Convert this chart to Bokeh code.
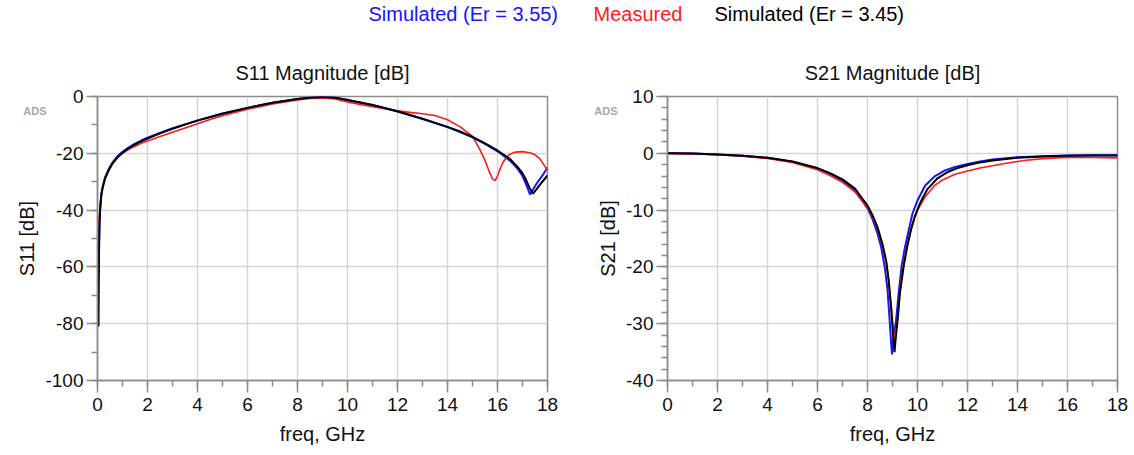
from bokeh.plotting import figure
from bokeh.layouts import column, row
from bokeh.models import (Range1d, SingleIntervalTicker, FixedTicker, LinearAxis,
                          PrintfTickFormatter, CustomJSTickFormatter)
from bokeh.core.properties import value
from bokeh.embed import file_html
from bokeh.resources import INLINE

# ---------------- data ----------------
series_names = ["Simulated (Er = 3.55)", "Measured", "Simulated (Er = 3.45)"]
series_colors = ["#1414ff", "#ff1a1a", "#000000"]

# S11 magnitude [dB]
s11_sim355_f = [0.04, 0.06, 0.08, 0.1, 0.15, 0.2, 0.3, 0.45, 0.6, 0.8, 1.0, 1.25, 1.5, 1.75, 2.0, 2.5,
                3.0, 3.5, 4.0, 5.0, 6.0, 7.0, 8.0, 8.5, 9.0, 9.5, 10.0, 11.0, 12.0, 13.0, 14.0, 14.5,
                15.0, 15.5, 16.0, 16.5, 16.8, 17.0, 17.15, 17.3, 17.45, 17.6, 17.8, 18.0]
s11_sim355_v = [-63, -52, -44, -40, -34.5, -32, -28.5, -25.5, -23.2, -21, -19.5, -17.9, -16.6, -15.5, -14.5, -12.8,
                -11.2, -9.8, -8.4, -6.0, -4.0, -2.2, -0.9, -0.4, -0.15, -0.4, -1.2, -3.0, -5.3, -7.9, -10.8, -12.5,
                -14.4, -16.7, -19.3, -22.6, -25.4, -28.0, -31.0, -34.5, -32.3, -30.2, -27.8, -25.0]

s11_meas_f = [0.05, 0.1, 0.15, 0.2, 0.3, 0.45, 0.6, 0.8, 1.0, 1.25, 1.5, 1.75, 2.0, 2.5, 3.0, 3.5, 4.0, 4.5,
              5.0, 6.0, 7.0, 8.0, 8.5, 9.0, 9.5, 10.0, 10.5, 11.0, 11.5, 12.0, 12.5, 13.0, 13.5, 14.0, 14.5,
              15.0, 15.3, 15.5, 15.65, 15.8, 15.9, 16.0, 16.1, 16.2, 16.35, 16.5, 16.7, 17.0, 17.3, 17.5,
              17.7, 17.85, 18.0]
s11_meas_v = [-45, -39, -35, -32, -28.5, -25.8, -23.6, -21.5, -20.0, -18.6, -17.5, -16.5, -15.7, -14.1, -12.6, -11.1, -9.6, -8.1,
              -6.8, -4.5, -2.6, -1.2, -0.7, -0.5, -0.9, -1.9, -2.8, -3.6, -4.3, -5.0, -5.6, -6.1, -6.7, -8.2, -10.6,
              -14.0, -18.8, -22.5, -26.0, -29.0, -29.6, -28.0, -25.5, -23.5, -21.5, -20.3, -19.6, -19.4, -19.8, -20.5,
              -22.0, -24.0, -26.0]

s11_sim345_f = [0.04, 0.06, 0.08, 0.1, 0.15, 0.2, 0.3, 0.45, 0.6, 0.8, 1.0, 1.25, 1.5, 1.75, 2.0, 2.5,
                3.0, 3.5, 4.0, 5.0, 6.0, 7.0, 8.0, 8.5, 9.0, 9.5, 10.0, 11.0, 12.0, 13.0, 14.0, 14.5,
                15.0, 15.5, 16.0, 16.5, 16.8, 17.0, 17.15, 17.3, 17.42, 17.55, 17.7, 17.85, 18.0]
s11_sim345_v = [-81, -55, -45, -40.5, -35, -32.4, -29, -26, -23.6, -21.4, -19.8, -18.2, -16.9, -15.8, -14.8, -13.0,
                -11.4, -9.9, -8.5, -6.1, -4.0, -2.2, -0.9, -0.4, -0.15, -0.4, -1.2, -3.0, -5.2, -7.8, -10.7, -12.3,
                -14.2, -16.5, -19.0, -22.0, -24.8, -27.0, -29.5, -32.5, -34.2, -32.8, -31.0, -29.4, -27.8]

# S21 magnitude [dB]
s21_sim355_f = [0, 1, 2, 3, 4, 5, 6, 6.5, 7, 7.5, 8.0, 8.2, 8.4, 8.55, 8.7, 8.8, 8.88, 8.94, 8.98,
                9.02, 9.07, 9.14, 9.25, 9.36, 9.5, 9.65, 9.8, 10.0, 10.3, 10.7, 11.1, 11.5, 12.0, 12.5,
                13.0, 14.0, 15.0, 16.0, 17.0, 18.0]
s21_sim355_v = [0, -0.05, -0.2, -0.45, -0.8, -1.5, -2.7, -3.6, -4.8, -6.6, -9.7, -11.6, -14.1, -16.6, -20.3, -24.0, -29.0, -33.0, -35.4,
                -33.5, -31.5, -29.5, -24.5, -20.0, -16.5, -13.5, -10.6, -8.3, -5.7, -4.0, -3.0, -2.4, -1.9, -1.45,
                -1.1, -0.7, -0.5, -0.4, -0.35, -0.35]

s21_meas_f = [0, 0.5, 1, 2, 3, 4, 5, 6, 6.5, 7, 7.5, 8.0, 8.2, 8.4, 8.6, 8.75, 8.85, 8.95, 9.03, 9.1,
              9.17, 9.25, 9.35, 9.5, 9.65, 9.8, 10.0, 10.3, 10.7, 11.0, 11.5, 12.0, 12.5, 13.0, 13.5,
              14.0, 14.5, 15.0, 15.5, 16.0, 17.0, 18.0]
s21_meas_v = [0, -0.05, -0.1, -0.25, -0.5, -0.9, -1.6, -2.9, -3.9, -5.1, -6.8, -9.6, -11.2, -13.3, -16.3, -19.2, -22.5, -27.0, -31.0, -32.8,
              -30.5, -26.5, -22.0, -18.0, -15.0, -12.5, -10.0, -7.7, -5.6, -4.7, -3.7, -3.1, -2.6, -2.2, -1.8,
              -1.45, -1.15, -0.95, -0.8, -0.75, -0.75, -0.8]

s21_sim345_f = [0, 1, 2, 3, 4, 5, 6, 6.5, 7, 7.5, 8.0, 8.2, 8.4, 8.6, 8.75, 8.85, 8.95, 9.02, 9.08,
                9.13, 9.2, 9.3, 9.45, 9.6, 9.75, 9.9, 10.1, 10.4, 10.8, 11.2, 11.6, 12.0, 12.5, 13.0,
                14.0, 15.0, 16.0, 17.0, 18.0]
s21_sim345_v = [0, -0.05, -0.2, -0.45, -0.8, -1.45, -2.6, -3.5, -4.6, -6.2, -9.2, -10.9, -13.0, -16.0, -19.0, -22.5, -27.5, -32.0, -35.0,
                -32.5, -29.5, -24.5, -19.8, -16.2, -13.3, -11.0, -8.8, -6.3, -4.4, -3.3, -2.6, -2.1, -1.6, -1.25,
                -0.8, -0.55, -0.42, -0.38, -0.38]

x_ticks_interval = 2
FONT = "Liberation Sans"
GRID = "#d6d6d6"
AXIS = "#8c8c8c"
FIG_H = 415


def make_panel(title, ylabel, yr, ystep, yminor, series, border_left, border_right,
               ads_level, ads_standoff):
    p = figure(width=567, height=FIG_H, output_backend="svg", toolbar_location=None,
               x_range=Range1d(0, 18), y_range=Range1d(*yr),
               min_border_left=border_left, min_border_right=border_right,
               min_border_top=56, min_border_bottom=75)
    p.title.text = title
    p.title.align = "center"
    p.title.text_font = FONT
    p.title.text_font_size = "20px"
    p.title.text_font_style = "normal"
    p.title.text_color = "#111111"
    p.title.standoff = 25
    p.background_fill_color = "white"
    p.border_fill_color = "white"
    p.outline_line_color = AXIS
    p.outline_line_width = 1.5

    p.xaxis.ticker = SingleIntervalTicker(interval=x_ticks_interval, num_minor_ticks=2)
    p.yaxis.ticker = SingleIntervalTicker(interval=ystep, num_minor_ticks=yminor)
    p.xaxis.formatter = PrintfTickFormatter(format="%d")
    p.yaxis.formatter = PrintfTickFormatter(format="%d")
    p.xgrid.ticker = p.xaxis.ticker
    p.ygrid.ticker = p.yaxis.ticker
    for g in (p.xgrid, p.ygrid):
        g.grid_line_color = GRID
        g.grid_line_width = 1.5

    for ax in (p.xaxis, p.yaxis):
        ax.axis_line_color = AXIS
        ax.axis_line_width = 1.5
        ax.major_tick_line_color = AXIS
        ax.minor_tick_line_color = AXIS
        ax.major_tick_line_width = 1.5
        ax.minor_tick_line_width = 1.5
        ax.major_tick_in = 0
        ax.minor_tick_in = 0
        ax.major_label_text_font = FONT
        ax.major_label_text_font_size = "19px"
        ax.major_label_text_color = "#111111"
        ax.axis_label_text_font = FONT
        ax.axis_label_text_font_size = "20px"
        ax.axis_label_text_font_style = "normal"
        ax.axis_label_text_color = "#111111"
    p.xaxis.major_tick_out = 12
    p.xaxis.minor_tick_out = 6
    p.yaxis.major_tick_out = 11
    p.yaxis.minor_tick_out = 6
    p.xaxis.major_label_standoff = 5
    p.yaxis.major_label_standoff = 3
    p.xaxis.axis_label = "freq, GHz"
    p.yaxis.axis_label = ylabel
    p.xaxis.axis_label_standoff = 9
    p.yaxis.axis_label_standoff = 4

    for (fx, vy), color, w in series:
        p.line(fx, vy, line_color=color, line_width=w)

    # small grey "ADS" watermark beside the top-left corner of the frame,
    # drawn as the single tick label of an invisible outer axis
    ads = LinearAxis(ticker=FixedTicker(ticks=[ads_level]),
                     formatter=CustomJSTickFormatter(code="return 'ADS'"),
                     axis_line_color=None, major_tick_line_color=None, minor_tick_line_color=None,
                     major_tick_out=0, major_tick_in=0, minor_tick_out=0, minor_tick_in=0,
                     major_label_standoff=ads_standoff, major_label_text_align="left",
                     major_label_text_font=FONT, major_label_text_font_size="11px",
                     major_label_text_font_style="bold", major_label_text_color="#a8a8a8")
    p.add_layout(ads, "left")
    return p


p1 = make_panel("S11 Magnitude [dB]", "S11 [dB]", (-100, 0), 20, 2,
                [((s11_sim355_f, s11_sim355_v), series_colors[0], 2),
                 ((s11_meas_f, s11_meas_v), series_colors[1], 1.6),
                 ((s11_sim345_f, s11_sim345_v), series_colors[2], 2)],
                97, 20, -5, -33)
p2 = make_panel("S21 Magnitude [dB]", "S21 [dB]", (-40, 10), 10, 5,
                [((s21_sim355_f, s21_sim355_v), series_colors[0], 2),
                 ((s21_meas_f, s21_meas_v), series_colors[1], 1.6),
                 ((s21_sim345_f, s21_sim345_v), series_colors[2], 2)],
                100, 17, 7.5, -23)

# legend strip (coloured series names)
leg = figure(width=1134, height=40, output_backend="svg", toolbar_location=None,
             x_range=Range1d(0, 1134), y_range=Range1d(0, 40),
             min_border=0)
leg.axis.visible = False
leg.grid.visible = False
leg.outline_line_color = None
leg.border_fill_color = "white"
legend_x = [368, 593, 714]
for name, color, lx in zip(series_names, series_colors, legend_x):
    leg.text(x=[lx], y=[27], text=[name], text_color=color, text_font=value(FONT),
             text_font_size="20px", text_baseline="alphabetic", text_align="left")

layout = column(leg, row(p1, p2))
open("out.html", "w").write(file_html(layout, INLINE))
